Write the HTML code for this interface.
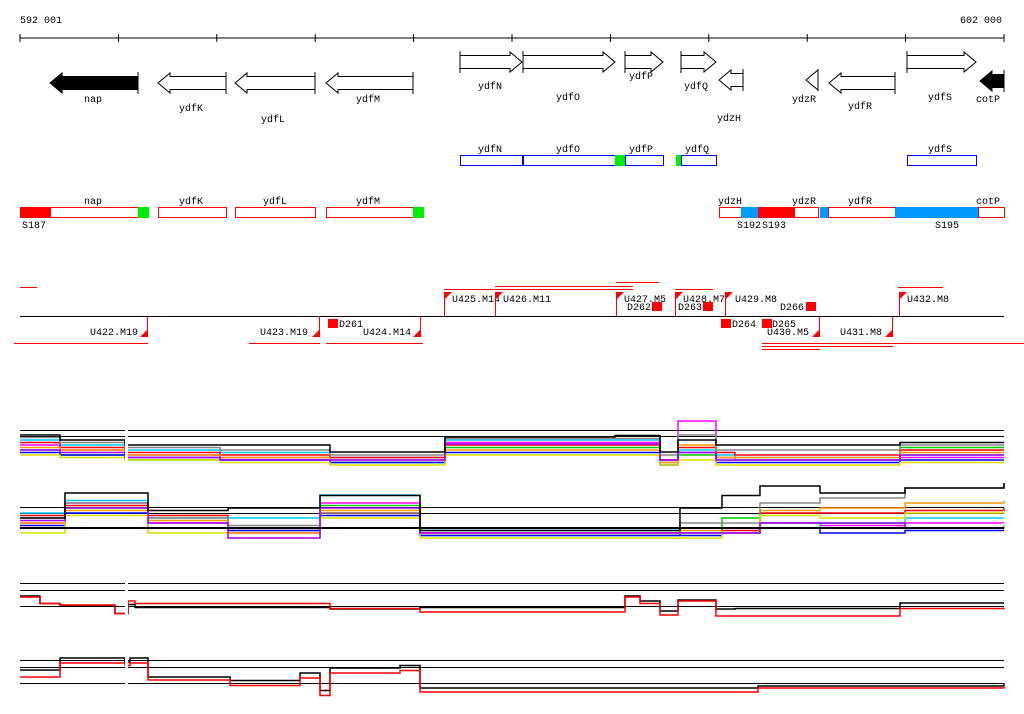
<!DOCTYPE html>
<html><head><meta charset="utf-8">
<style>
html,body{margin:0;padding:0;background:#fff;}
svg{display:block;font-family:"Liberation Mono","DejaVu Sans Mono",monospace;font-size:10px;}
</style></head>
<body>
<svg id="chart" width="1024" height="714" viewBox="0 0 1024 714">
<text x="20" y="23">592 001</text>
<text x="1002" y="23" text-anchor="end">602 000</text>
<g id="ruler"></g>
<g id="genes"></g>
<g id="boxes"></g>
<g id="annot"></g>
<g id="plots"></g>
</svg>
<script>
var NS="http://www.w3.org/2000/svg";
function el(tag,attrs,parent){var e=document.createElementNS(NS,tag);for(var k in attrs)e.setAttribute(k,attrs[k]);parent.appendChild(e);return e;}
function X(bp){return 20+bp*984/10000;}

// ---------- data ----------
var rulerTicks=[0,1000,2000,3000,4000,5000,6000,7000,8000,9000,10000];

var p1Breaks=[0,407,1067,1118,2033,3150,4319,4827,6047,6504,6687,7073,7266,8943,10000];
var p1Black=[4,3,2,2,2,0.6,3.6,3.6,3.9,0.6,3,2,2,2.5,2.5];
var p1Magenta=[2,1,0,0,-0.5,-1,2.5,2.5,2.5,-1,6.8,-0.5,-1,-0.5,-0.5];
var p1Cyan=[3,2,1,1,0.5,-0.5,3,3,3,-1,1,0,-0.5,0,0];
var p1Green=[1,0,-1,-1,-1,-1.5,1.5,1.5,1.5,-1.5,0,-1,-1,1.5,1.5];
var p1Red=[2.5,1.5,0.5,0.5,0,-0.5,2,2,2,-1,1.5,0.5,0,1,1];
var p1Orange=[1.5,1,0,0,-0.5,-1,1,1,1,-1.5,2,-0.5,-0.5,0.5,0.5];
var p1Blue=[0.5,0,-0.5,-0.5,-1,-1.5,0.5,0.5,0.5,-2,0.5,-1.5,-1.5,-1,-1];
var p1Gray=[3.5,2.5,1.5,1.5,1,0,3.3,3.3,3.3,0,4,1,1,2,2];
var p1Yellow=[0,-0.5,-1,-1,-1.5,-2,0,0,0,-2,-1,-2,-2,-1.5,-1.5];
var p1Purple=[1,0.5,-0.5,-0.5,-1,-1,2.2,2.2,2.2,-1,0.5,-1,-1,0,0];

var p2Breaks=[0,457,1301,2114,3049,4065,6707,7134,7520,8130,8994,10000];
var p2Black=[2,7,3.5,4,6.5,-0.5,4,6.5,8.4,7,8,9];
var p2Cyan=[3,5.5,2,2,6.6,-0.5,-0.5,0,0,1,2,2];
var p2Magenta=[1,5,1,-1,5,-1,-1,-1,1,0.5,1,1];
var p2Green=[0,4,0,-0.5,4.5,-1.5,-1,2,1,1,0,0.5];
var p2Red=[2.5,4.5,2.5,0,3,-1,0,-0.5,3,3,3.5,4];
var p2Orange=[1,3.5,1.5,-1,3.5,-1,-0.5,-1,3.5,4,5,5.5];
var p2Blue=[0.5,3,0,-0.5,2.5,-1.5,-1.5,-1,0,-1,-0.5,-0.5];
var p2Gray=[2,5,2,0.5,3,0,1,1,5,6,8,9];
var p2Yellow=[-1,2.5,-1,-2,2,-2,-2,-1,2.5,2,3,3.5];
var p2Purple=[1.5,4,1,-2,4,-1,-1,-1,1,1,0,0];

var p3Breaks=[0,203,407,965,1098,1169,3150,4065,6148,6301,6504,6687,7073,7266,8943,10000];
var p3Black=[2,0.5,0,-1.5,0.3,-0.3,-0.6,-0.3,2,1,-1,1.2,-0.6,-0.5,0.6,0.6];
var p3Red=[1.8,0.5,0.2,-1.5,1,0.5,-0.5,-1.2,1.8,0.5,-1.8,1.0,-2,-2,-0.5,-0.3];

var p4Breaks=[0,407,1067,1118,1301,2135,2846,3049,3150,3862,4065,7500,10000];
var p4Black=[2.6,5,4.2,5,1.2,0.5,2,-1.5,3,3.5,-1,-0.6,0];
var p4Red=[1.2,4,3.5,4,0.6,-0.5,1,-2.5,2,2.5,-1.8,-1,-0.4];

var colors={black:"#000",magenta:"#f0f",cyan:"#0cf",green:"#0c0",red:"#f00",orange:"#f90",blue:"#00f",gray:"#888",yellow:"#dd0",purple:"#a0f"};

// ---------- ruler ----------
var ruler=document.getElementById('ruler');
var rl=el('line',{x1:20,y1:38,x2:1004,y2:38,stroke:'#000','stroke-width':1},ruler);


rulerTicks.forEach(function(t){
  var tk=el('line',{x1:X(t),y1:34,x2:X(t),y2:42,stroke:'#000'},ruler);
  
  
});

// ---------- gene arrows ----------
var genes=document.getElementById('genes');
function arrow(name,x1,x2,yc,dir,fill,lx,ly){
  var g=el('g',{},genes);
  
  
  var bh=6.5,hh=10,hl=12,pts;
  if(dir<0){
    var hx=Math.min(x1+hl,x2);
    pts=[[x1,yc],[hx,yc-hh],[hx,yc-bh],[x2,yc-bh],[x2,yc+bh],[hx,yc+bh],[hx,yc+hh]];
    el('line',{x1:x2,y1:yc-hh-1,x2:x2,y2:yc+hh+1,stroke:'#000'},g);
  } else {
    var hx2=Math.max(x2-hl,x1);
    pts=[[x2,yc],[hx2,yc-hh],[hx2,yc-bh],[x1,yc-bh],[x1,yc+bh],[hx2,yc+bh],[hx2,yc+hh]];
    el('line',{x1:x1,y1:yc-hh-1,x2:x1,y2:yc+hh+1,stroke:'#000'},g);
  }
  el('polygon',{points:pts.map(function(p){return p.join(',');}).join(' '),fill:fill,stroke:'#000','stroke-width':1},g);
  var t=el('text',{x:lx,y:ly,'text-anchor':'middle'},g);t.textContent=name;
}
arrow('nap',50,138,83,-1,'#000',93,102);
arrow('ydfK',158,226,83,-1,'#fff',191,111);
arrow('ydfL',235,315,83,-1,'#fff',273,122);
arrow('ydfM',326,413,83,-1,'#fff',368,102);
arrow('ydfN',460,522,62,1,'#fff',490,89);
arrow('ydfO',523,615,62,1,'#fff',568,100);
arrow('ydfP',625,663,62,1,'#fff',641,79);
arrow('ydfQ',681,716,62,1,'#fff',696,89);
arrow('ydzH',719,743,80,-1,'#fff',729,121);
arrow('ydzR',806,818,80,-1,'#fff',804,102);
arrow('ydfR',829,895,83,-1,'#fff',860,109);
arrow('ydfS',907,976,62,1,'#fff',940,100);
arrow('cotP',980,1004,81,-1,'#000',988,102);

// ---------- feature boxes ----------
var boxes=document.getElementById('boxes');
function box(name,x1,x2,y,h,stroke,fill,lab,lx,ly){
  var r=el('rect',{x:x1+0.5,y:y+0.5,width:x2-x1,height:h,fill:fill,stroke:stroke},boxes);
  
  
  if(lab){var t=el('text',{x:lx,y:ly,'text-anchor':'middle'},boxes);t.textContent=lab;}
}
box('ydfN-box',460,522,155,10,'#00f','#fff','ydfN',490,152);
box('ydfO-box',523,615,155,10,'#00f','#fff','ydfO',568,152);
box('ydfO-green',615,625,155,10,'#0e0','#0e0');
box('ydfP-box',625,663,155,10,'#00f','#fff','ydfP',641,152);
box('ydfQ-green',676,681,155,10,'#0e0','#0e0');
box('ydfQ-box',681,716,155,10,'#00f','#fff','ydfQ',697,152);
box('ydfS-box',907,976,155,10,'#00f','#fff','ydfS',940,152);

box('nap-box',20,148,207,10,'#f00','#fff','nap',93,204);
box('nap-red',20,50,207,10,'#f00','#f00');
box('nap-green',138,148,207,10,'#0e0','#0e0');
box('ydfK-box',158,226,207,10,'#f00','#fff','ydfK',191,204);
box('ydfL-box',235,315,207,10,'#f00','#fff','ydfL',275,204);
box('ydfM-box',326,423,207,10,'#f00','#fff','ydfM',368,204);
box('ydfM-green',413,423,207,10,'#0e0','#0e0');
box('ydzH-box',719,741,207,10,'#f00','#fff','ydzH',730,204);
box('S192-blue',741,758,207,10,'#09f','#09f');
box('S193-red',758,794,207,10,'#f00','#f00');
box('ydzR-box',794,818,207,10,'#f00','#fff','ydzR',804,204);
box('S195-blue1',820,828,207,10,'#09f','#09f');
box('ydfR-box',828,895,207,10,'#f00','#fff','ydfR',860,204);
box('S195-blue2',895,978,207,10,'#09f','#09f');
box('cotP-box',978,1004,207,10,'#f00','#fff','cotP',988,204);
[['S187',22],['S192',737],['S193',762],['S195',935]].forEach(function(s){
  var t=el('text',{x:s[1],y:228},boxes);t.textContent=s[0];
  
  
});

// ---------- annotation track ----------
var an=document.getElementById('annot');
var ml=el('line',{x1:20,y1:316.5,x2:1004,y2:316.5,stroke:'#000'},an);


function up(name,x,tx){
  var g=el('g',{},an);
  
  
  el('line',{x1:x+0.5,y1:292,x2:x+0.5,y2:316,stroke:'#f00'},g);
  el('polygon',{points:(x)+',292 '+(x+8)+',292 '+(x)+',300',fill:'#f00'},g);
  var t=el('text',{x:tx,y:302},g);t.textContent=name;
}
function down(name,x,tx){
  var g=el('g',{},an);
  
  
  el('line',{x1:x-0.5,y1:316,x2:x-0.5,y2:337,stroke:'#f00'},g);
  el('polygon',{points:(x)+',329 '+(x)+',337 '+(x-8)+',337',fill:'#f00'},g);
  var t=el('text',{x:tx,y:335},g);t.textContent=name;
}
function dbox(name,x,y,tx,ty){
  var g=el('g',{},an);
  
  
  el('rect',{x:x,y:y,width:10,height:9,fill:'#f00'},g);
  var t=el('text',{x:tx,y:ty},g);t.textContent=name;
}
up('U425.M14',444,452);up('U426.M11',495,503);up('U427.M5',616,624);
up('U428.M7',675,683);up('U429.M8',725,735);up('U432.M8',899,907);
down('U422.M19',148,90);down('U423.M19',320,260);down('U424.M14',421,363);
down('U430.M5',820,767);down('U431.M8',893,840);
dbox('D262',652,302,627,310);dbox('D263',703,302,678,310);dbox('D266',806,302,780,310);
dbox('D261',328,319,339,327);dbox('D264',721,319,732,327);dbox('D265',762,319,772,327);
[[20,37,287],[444,633,289],[495,633,286],[616,659,282],[675,713,289],[898,943,287],
 [14,148,343],[249,320,343],[326,423,343],[762,1024,343],[762,893,346],[762,820,349]].forEach(function(l){
  var e=el('line',{x1:l[0],y1:l[2]+0.5,x2:l[1],y2:l[2]+0.5,stroke:'#f00'},an);
  
  
});

// ---------- plots ----------
var pl=document.getElementById('plots');
function grid(y,gap){
  var e=el('line',{x1:20,y1:y+0.5,x2:1004,y2:y+0.5,stroke:'#000'},pl);
  
  
}
function series(name,breaks,vals,base,scale,color,w){
  var pts=[];
  for(var i=0;i<breaks.length;i++){
    var y=base-vals[i]*scale;
    pts.push(X(breaks[i])+','+y);
    if(i<breaks.length-1)pts.push(X(breaks[i+1])+','+y);
  }
  var p=el('polyline',{points:pts.join(' '),fill:'none',stroke:color,'stroke-width':w||1},pl);
  
  
}
[430,436,507,513,583,590,606,660,667,683].forEach(function(y){grid(y);});
var p1=[['magenta',p1Magenta],['cyan',p1Cyan],['green',p1Green],['red',p1Red],['orange',p1Orange],['blue',p1Blue],['gray',p1Gray],['yellow',p1Yellow],['purple',p1Purple],['black',p1Black]];
p1.forEach(function(s){series('panel1-'+s[0]+'-line',p1Breaks,s[1],455,5,colors[s[0]],1.5);});
var p2=[['magenta',p2Magenta],['cyan',p2Cyan],['green',p2Green],['red',p2Red],['orange',p2Orange],['blue',p2Blue],['gray',p2Gray],['yellow',p2Yellow],['purple',p2Purple],['black',p2Black]];
p2.forEach(function(s){series('panel2-'+s[0]+'-line',p2Breaks,s[1],528,5,colors[s[0]],1.5);});
series('panel2-baseline',[0,10000],[0,0],528,5,'#000',2);
series('panel3-black-line',p3Breaks,p3Black,606,5,'#000',1.5);
series('panel3-red-line',p3Breaks,p3Red,606,5,'#f00',1.5);
series('panel4-black-line',p4Breaks,p4Black,683,5,'#000',1.5);
series('panel4-red-line',p4Breaks,p4Red,683,5,'#f00',1.5);
[[420,470],[575,620],[650,700]].forEach(function(r){
  var g=el('rect',{x:125,y:r[0],width:3,height:r[1]-r[0],fill:'#fff'},pl);
  
  
});
</script>
</body></html>
